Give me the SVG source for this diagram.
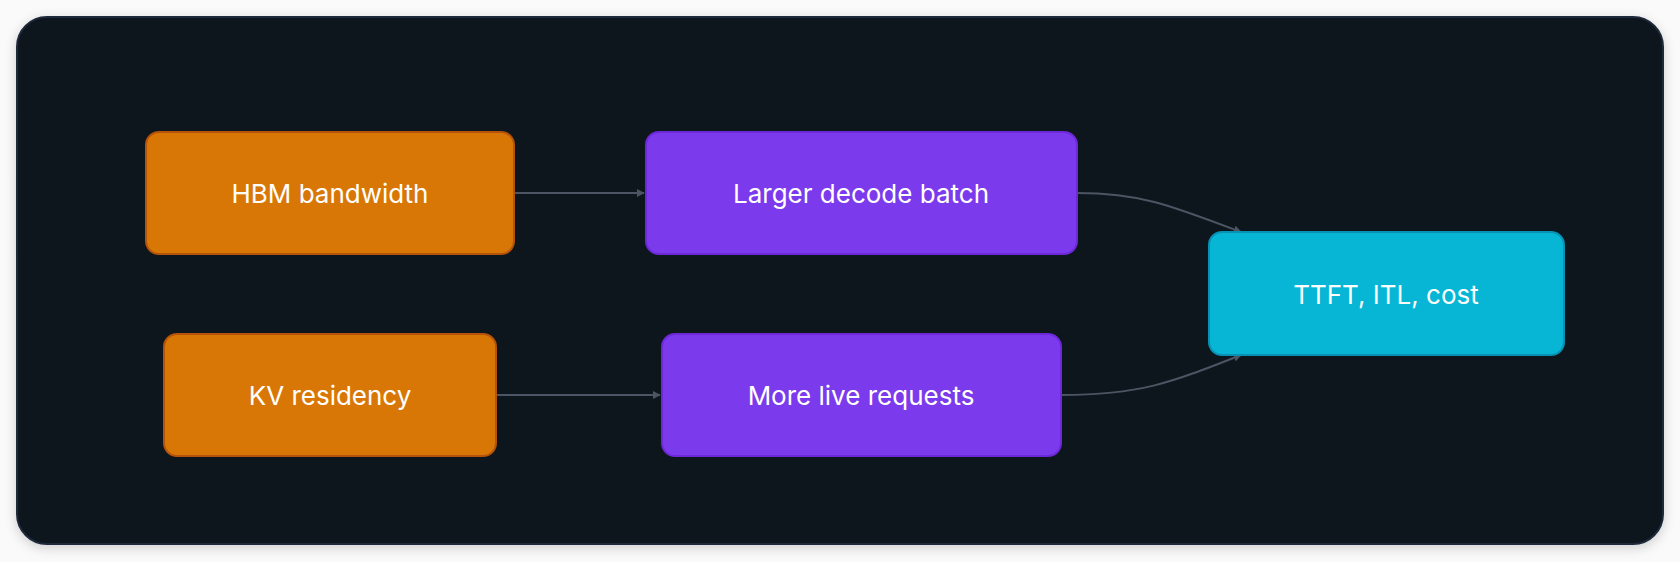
<svg xmlns="http://www.w3.org/2000/svg" width="1680" height="562" viewBox="0 0 1680 562">
<style>
.n text{font-family:Inter,"Noto Sans",sans-serif;font-size:26px;fill:#fff;text-anchor:middle;dominant-baseline:central}
.o rect{fill:#d97706;stroke:#b45309;stroke-width:2}
.p rect{fill:#7c3aed;stroke:#6d28d9;stroke-width:2}
.c rect{fill:#06b6d4;stroke:#0891b2;stroke-width:2}
#edges path{fill:none;stroke:#4b5563;stroke-width:2}
</style>
<defs>
<marker id="ah" viewBox="0 0 10 10" refX="9" refY="5" markerWidth="8" markerHeight="8" markerUnits="userSpaceOnUse" orient="auto"><path d="M0,0L10,5L0,10z" fill="#4b5563"/></marker>
<filter id="sh" x="-5%" y="-10%" width="110%" height="120%"><feDropShadow dx="0" dy="3" stdDeviation="6" flood-color="#000" flood-opacity="0.18"/></filter>
</defs>
<rect width="1680" height="562" fill="#fafafa"/>
<rect x="17" y="17" width="1646" height="527" rx="30" fill="#11131a" stroke="#1e293b" stroke-width="2" filter="url(#sh)"/>
<g id="edges">
<path d="M514,193H644" marker-end="url(#ah)" style="marker-end:url(#ah)"/>
<path d="M496,395H660" marker-end="url(#ah)"/>
<path d="M1077,193C1140,193 1170,205 1241,232" marker-end="url(#ah)"/>
<path d="M1061,395C1140,395 1170,383 1241,355" marker-end="url(#ah)"/>
</g>
<g id="hbm" class="n o"><rect x="146" y="132" width="368" height="122" rx="13"/><text x="330" y="193">HBM bandwidth</text></g>
<g id="kv" class="n o"><rect x="164" y="334" width="332" height="122" rx="13"/><text x="330" y="395">KV residency</text></g>
<g id="batch" class="n p"><rect x="646" y="132" width="431" height="122" rx="13"/><text x="861" y="193">Larger decode batch</text></g>
<g id="live" class="n p"><rect x="662" y="334" width="399" height="122" rx="13"/><text x="861" y="395">More live requests</text></g>
<g id="ttft" class="n c"><rect x="1209" y="232" width="355" height="123" rx="13"/><text x="1386" y="294">TTFT, ITL, cost</text></g>
</svg>
